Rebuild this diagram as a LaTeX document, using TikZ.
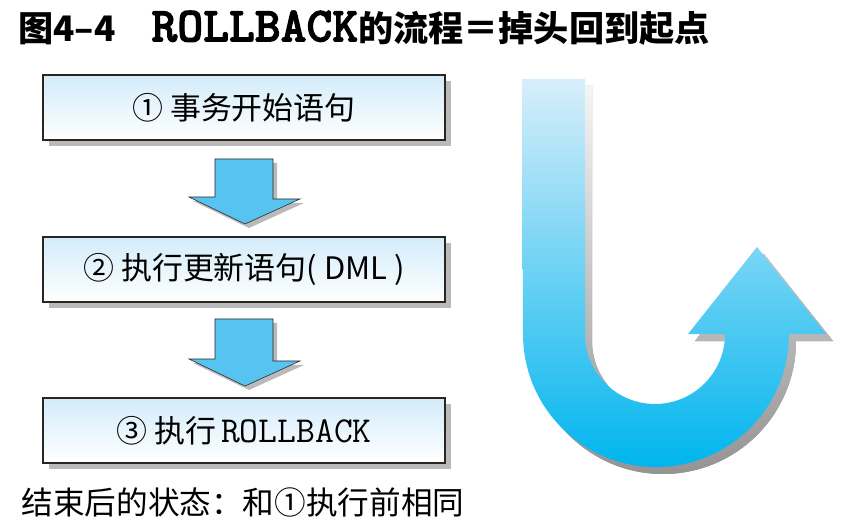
\documentclass[tikz,border=0pt]{standalone}
\usepackage{fontspec}
\setmainfont{Noto Sans CJK SC}
\newfontfamily\titlemono[FakeBold=2.2]{lmmonolt10-bold.otf}
\usetikzlibrary{shadows,calc}

\definecolor{boxtop}{HTML}{D3ECFA}
\definecolor{flowblue}{HTML}{56C3F0}
\definecolor{utop}{HTML}{D8EEFA}
\definecolor{ubottom}{HTML}{00B5EE}
\definecolor{edge}{HTML}{2B2522}

\tikzset{
  stepbox/.style={draw=edge, line width=1.4pt, top color=boxtop, bottom color=white,
    minimum width=100.5mm, minimum height=16.25mm, inner sep=0pt,
    font=\fontsize{22}{26}\selectfont,
    drop shadow={shadow xshift=1.6mm, shadow yshift=-1.5mm, fill=black!27, opacity=1}},
  flowarrow/.style={fill=flowblue, draw=edge, line width=0.4pt,
    drop shadow={shadow xshift=1mm, shadow yshift=-1mm, fill=black!27, opacity=1}},
}

\begin{document}
\begin{tikzpicture}[x=0.25mm,y=-0.25mm]
\useasboundingbox (0,0) rectangle (845,531);

% title
\node[anchor=west, inner sep=0pt, font=\bfseries\fontsize{25}{30}\selectfont] (title) at (18,28)
  {图4–4\hspace{9mm}{\titlemono\fontsize{35}{38}\selectfont ROLLBACK}的流程＝掉头回到起点};

% the three steps
\node[stepbox] (s1) at (244,107.5) {① 事务开始语句};
\node[stepbox] (s2) at (244,269.5) {② 执行更新语句( DML )};
\node[stepbox] (s3) at (244,430.5) {③ 执行\,{\ttfamily\fontsize{26}{28}\selectfont ROLLBACK}};

\draw[flowarrow] ($(s1.south)+(-29,18)$) -- ++(58,0) -- ++(0,40) -- ++(27,0)
  -- ($(s2.north)+(1,-12)$) -- ++(-56,-27) -- ++(26,0) -- cycle;
\draw[flowarrow] ($(s2.south)+(-29,16)$) -- ++(58,0) -- ++(0,42) -- ++(27,0)
  -- ($(s3.north)+(1,-11)$) -- ++(-56,-27) -- ++(26,0) -- cycle;

\node[font=\fontsize{22.5}{26}\selectfont] (result) at (243,502) {结束后的状态：和①执行前相同};

% u-turn back to the start
\path[top color=utop, bottom color=ubottom,
  drop shadow={shadow xshift=1.75mm, shadow yshift=-1.75mm, top color=black!4, bottom color=black!42, opacity=1}]
  (522,79) -- (585,79) -- (585,334) arc[start angle=180, end angle=0, radius=70]
  -- (688,334) -- (757,247) -- (826,334) -- (789,334)
  arc[start angle=0, end angle=180, radius=133] -- cycle;
\end{tikzpicture}
\end{document}
